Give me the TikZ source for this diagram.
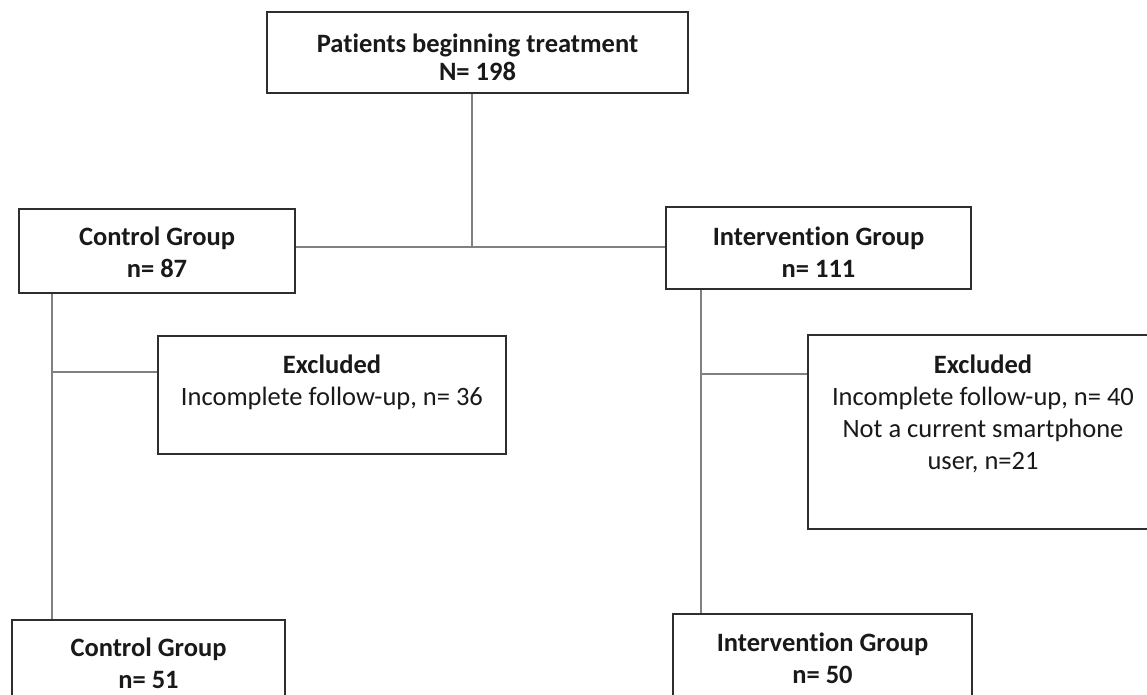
\documentclass[tikz,border=0pt]{standalone}
\usepackage{fontspec}
\setmainfont[Ligatures={NoCommon,NoRare},Contextuals=NoAlternate]{Carlito}
\begin{document}
\begin{tikzpicture}[x=1pt,y=-1pt,
  box/.style={draw=black!82, line width=2.2pt, inner sep=0pt, minimum width=#1},
  lbl/.style={anchor=north, inner sep=0pt, align=center, text=black!90,
    font=\fontsize{26.5}{32}\selectfont},
  lbltight/.style={lbl, font=\fontsize{26.5}{28}\selectfont},
  conn/.style={draw=black!50, line width=2pt}]
\useasboundingbox (0,0) rectangle (1147,695);
\clip (0,0) rectangle (1147,695);
% boxes
\node[box=421, minimum height=81] (top) at (477.5,52.5) {};
\node[box=276, minimum height=84] (ctl) at (157,251) {};
\node[box=305, minimum height=82] (int) at (818.5,248) {};
\node[box=348, minimum height=118] (exl) at (332,395) {};
\node[box=350, minimum height=194] (exr) at (983,432) {};
\node[box=273, minimum height=120] (ctlb) at (148.5,680) {};
\node[box=299, minimum height=120] (intb) at (822.5,674) {};
% labels
\node[lbltight] (ttop) at (477.5,34) {\textbf{Patients beginning treatment}\\\textbf{N= 198}};
\node[lbl] (tctl) at (157,227) {\textbf{Control Group}\\\textbf{n= 87}};
\node[lbl] (tint) at (818.5,227) {\textbf{Intervention Group}\\\textbf{n= 111}};
\node[lbl] (texl) at (332,355) {\textbf{Excluded}\\Incomplete follow-up, n= 36};
\node[lbl] (texr) at (983,355) {\textbf{Excluded}\\Incomplete follow-up, n= 40\\Not a current smartphone\\user, n=21};
\node[lbl] (tctlb) at (148.5,638) {\textbf{Control Group}\\\textbf{n= 51}};
\node[lbl] (tintb) at (822.5,633) {\textbf{Intervention Group}\\\textbf{n= 50}};
% connector coordinates
\coordinate (j) at (472,247);
\coordinate (lx) at (52,372);
\coordinate (rx) at (701,374);
% connectors
\draw[conn] (j |- top.south) -- (j);
\draw[conn] (ctl.east |- j) -- (int.west |- j);
\draw[conn] (lx |- ctl.south) -- (lx |- ctlb.north);
\draw[conn] (lx) -- (lx -| exl.west);
\draw[conn] (rx |- int.south) -- (rx |- intb.north);
\draw[conn] (rx) -- (rx -| exr.west);
\end{tikzpicture}
\end{document}
